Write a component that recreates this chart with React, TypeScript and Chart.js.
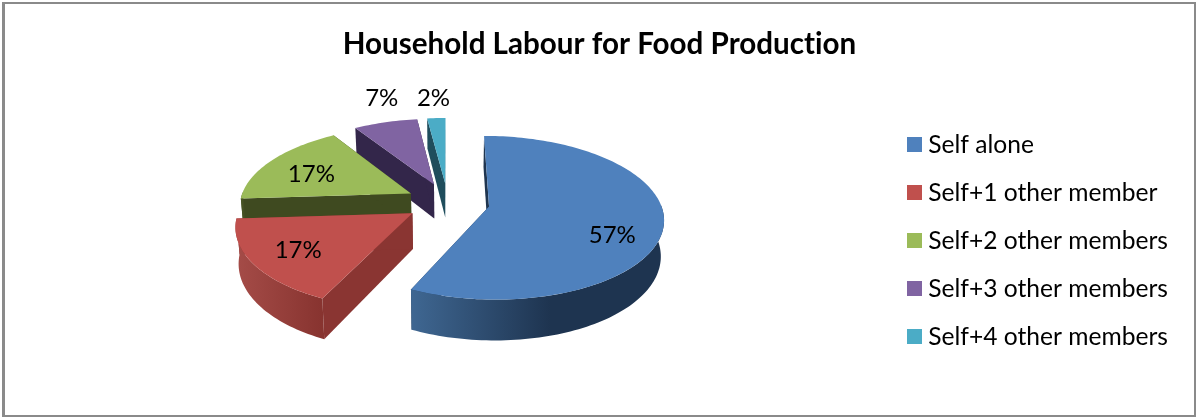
import React, { useEffect, useRef } from "react";
import { Chart, registerables } from "chart.js";

Chart.register(...registerables);

// Survey shares, in percent
const categories = [
  "Self alone",
  "Self+1 other member",
  "Self+2 other members",
  "Self+3 other members",
  "Self+4 other members",
];
const shares = [57, 17, 17, 7, 2];

// Slice styling
const faceColors = ["#4f81bd", "#c0504d", "#9bbb59", "#8064a2", "#4bacc6"];
const wallColors = ["#1f3550", "#8a3532", "#3f4a20", "#33264a", "#1f4d5c"];
const rimStart = ["#3f6792", "#a54c48", "#4a5726", "#33264a", "#1f4d5c"];
const rimEnd = ["#1e3450", "#87332f", "#3f4a20", "#33264a", "#1f4d5c"];

// Label placement along each slice's bisector, plus a small pixel nudge
const labelReach = [0.7, 0.72, 0.65, 1.38, 1.38];
const labelNudge = [[2, 16], [-2, 2], [-7, 2], [12, -3.5], [0, 1.5]];

// Perspective settings for the tilted pie
const EXPLODE = 0.245;
const PERSPECTIVE = 0.136;
const WIDTH_RATIO = 1.006;
const DEPTH_RATIO = 0.465;
const HEIGHT_PX = 35;
const BASE_SHRINK = 0.985;
const LIFT_PX = 38.5;
const SHIFT_X_PX = -8;

const LEGEND_FONT = 24.6;

const pie3d = {
  id: "pie3d",
  // A tiny letter spacing keeps the "ti" pair as separate glyphs
  beforeLayout(chart: any) {
    chart.ctx.letterSpacing = "0.001px";
  },
  beforeDatasetsDraw(chart: any) {
    const ctx = chart.ctx;
    const arcs = chart.getDatasetMeta(0).data;
    const first = arcs[0];
    const R = first.outerRadius;
    const cx = first.x + SHIFT_X_PX;
    const cy = first.y - LIFT_PX;
    const A = R * WIDTH_RATIO;
    const B = R * DEPTH_RATIO;

    const top = (u: number, v: number) => {
      const w = 1 - PERSPECTIVE * v;
      return { x: cx + (A * u) / w, y: cy + (B * v) / w, w };
    };
    const base = (u: number, v: number) => {
      const p = top(u, v);
      return { x: cx + (p.x - cx) * BASE_SHRINK, y: p.y + HEIGHT_PX / p.w };
    };
    const tracePath = (pts: { x: number; y: number }[]) => {
      ctx.beginPath();
      pts.forEach((p, i) => (i ? ctx.lineTo(p.x, p.y) : ctx.moveTo(p.x, p.y)));
      ctx.closePath();
    };

    // Far slices first so nearer ones overlap them
    for (let i = arcs.length - 1; i >= 0; i--) {
      const { startAngle, endAngle } = arcs[i];
      const mid = (startAngle + endAngle) / 2;
      const ax = Math.cos(mid) * EXPLODE;
      const ay = Math.sin(mid) * EXPLODE;
      const rim = (a: number) => [ax + Math.cos(a), ay + Math.sin(a)] as const;
      const sample = (a0: number, a1: number) => {
        const n = Math.max(2, Math.ceil((a1 - a0) * 40));
        return Array.from({ length: n + 1 }, (_, k) => rim(a0 + ((a1 - a0) * k) / n));
      };

      // Radial side walls
      ctx.fillStyle = wallColors[i];
      for (const a of [startAngle, endAngle]) {
        const [u, v] = rim(a);
        tracePath([top(ax, ay), top(u, v), base(u, v), base(ax, ay)]);
        ctx.fill();
      }

      // Curved wall, only where it turns toward the viewer
      const n0 = Math.max(startAngle, -0.02);
      const n1 = Math.min(endAngle, Math.PI + 0.02);
      if (n1 > n0) {
        const arc = sample(n0, n1);
        const pts = [
          ...arc.map(([u, v]) => top(u, v)),
          ...arc.slice().reverse().map(([u, v]) => base(u, v)),
        ];
        const xs = pts.map((p) => p.x);
        const g = ctx.createLinearGradient(Math.min(...xs), 0, Math.max(...xs), 0);
        g.addColorStop(0, rimStart[i]);
        g.addColorStop(i === 0 ? 0.55 : 1, rimEnd[i]);
        ctx.fillStyle = g;
        tracePath(pts);
        ctx.fill();
      }

      // Top face
      ctx.fillStyle = faceColors[i];
      tracePath([top(ax, ay), ...sample(startAngle, endAngle).map(([u, v]) => top(u, v))]);
      ctx.fill();
    }

    // Percentage labels
    ctx.save();
    ctx.fillStyle = "#000000";
    ctx.font = "24px Lato";
    ctx.textAlign = "center";
    ctx.textBaseline = "middle";
    arcs.forEach((arc: any, i: number) => {
      const mid = (arc.startAngle + arc.endAngle) / 2;
      const r = EXPLODE + labelReach[i];
      const p = top(Math.cos(mid) * r, Math.sin(mid) * r);
      ctx.fillText(`${shares[i]}%`, p.x + labelNudge[i][0], p.y + labelNudge[i][1]);
    });
    ctx.restore();
    return false;
  },
};

// Legend swatches are small canvases so the gap to the text can stay narrow
function swatch(color: string) {
  const c = document.createElement("canvas");
  c.width = 15;
  c.height = 15;
  const g = c.getContext("2d")!;
  g.fillStyle = color;
  g.fillRect(0, 0, 15, 15);
  return c;
}

export default function App() {
  const ref = useRef<HTMLCanvasElement>(null);

  useEffect(() => {
    document.body.style.margin = "0";
    const baseLabels = (Chart as any).overrides.pie.plugins.legend.labels.generateLabels;
    const chart = new Chart(ref.current!, {
      type: "pie",
      data: {
        labels: categories,
        datasets: [{ data: shares, backgroundColor: faceColors, borderWidth: 0 }],
      },
      options: {
        responsive: false,
        animation: false,
        layout: { padding: { top: 0, right: 18, bottom: 6, left: 21 } },
        plugins: {
          tooltip: { enabled: false },
          title: {
            display: true,
            text: "Household Labour for Food Production",
            color: "#000000",
            font: { family: "Lato", size: 29.6, weight: "bold" },
            padding: { top: 27, bottom: 8 },
          },
          legend: {
            position: "right",
            fullSize: false,
            labels: {
              color: "#000000",
              font: { family: "Lato", size: LEGEND_FONT },
              usePointStyle: true,
              boxWidth: 2,
              boxHeight: 2,
              padding: 23.4,
              generateLabels: (c: any) =>
                baseLabels(c).map((item: any, i: number) => ({
                  ...item,
                  pointStyle: swatch(faceColors[i]),
                })),
            },
          },
        },
      },
      plugins: [pie3d],
    } as any);
    return () => chart.destroy();
  }, []);

  return (
    <div style={{ position: "relative", width: 1196, height: 417, background: "#ffffff" }}>
      <canvas ref={ref} width={1196} height={417} style={{ display: "block" }} />
      <div
        style={{
          position: "absolute",
          left: 2,
          top: 2,
          right: 0,
          bottom: 0,
          boxSizing: "border-box",
          borderStyle: "solid",
          borderColor: "#8a8a8a",
          borderWidth: "2px 2px 2px 3px",
          pointerEvents: "none",
        }}
      />
    </div>
  );
}
